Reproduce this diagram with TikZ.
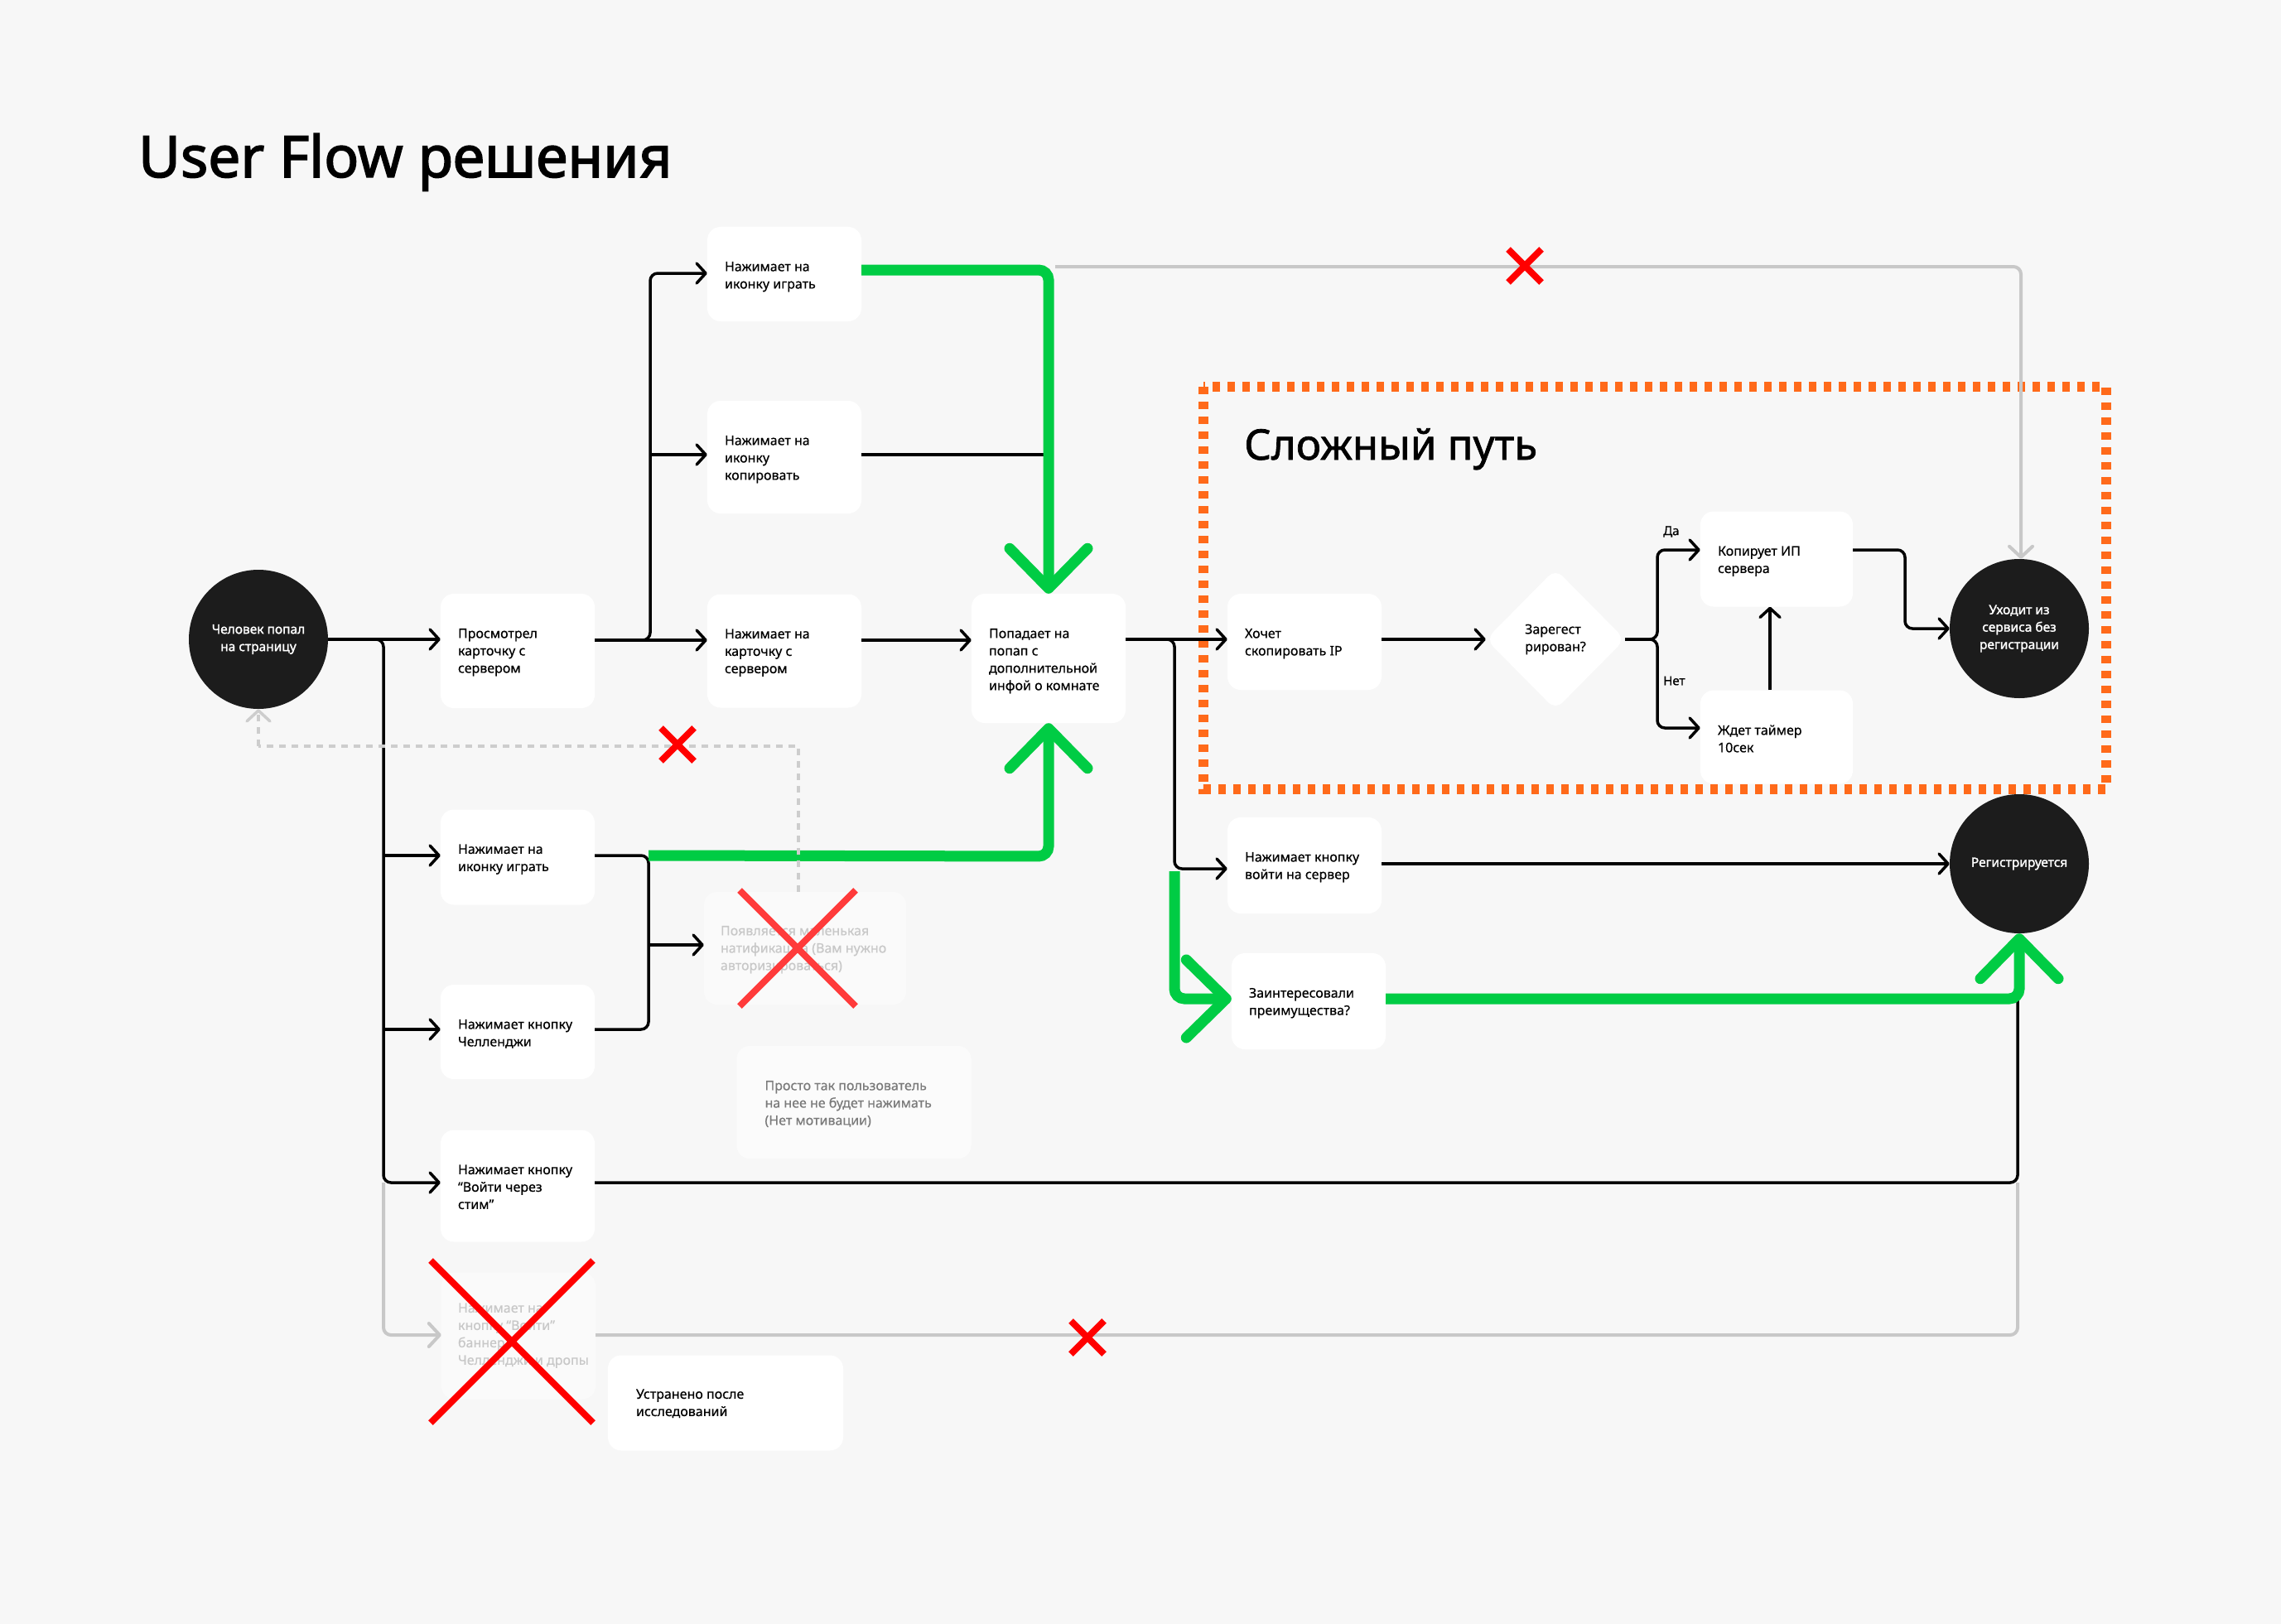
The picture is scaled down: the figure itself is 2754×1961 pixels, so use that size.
\documentclass[tikz,border=0pt]{standalone}
\usepackage{fontspec}
\setmainfont{Noto Sans}[FakeBold=0.5]
\newfontfamily\titlefont{Noto Sans}[FakeBold=2.2]
\newfontfamily\dotfont{Noto Sans}[FakeBold=1.6]
\newfontfamily\hardfont{Noto Sans}[FakeBold=1.4]
\usetikzlibrary{arrows.meta,shapes.geometric,calc}
\definecolor{bgc}{HTML}{F7F7F7}
\definecolor{dark}{HTML}{1C1C1C}
\definecolor{grn}{HTML}{00CC44}
\definecolor{org}{HTML}{FF6A1A}
\definecolor{lgrey}{HTML}{C8C8C8}
\definecolor{dgrey}{HTML}{CDCDCD}
\definecolor{xred}{HTML}{FF0000}
\definecolor{fred}{HTML}{FF3B3B}
\definecolor{notegrey}{HTML}{7A7A7A}
\tikzset{
  ubx/.style={draw=none, fill=white, rounded corners=16pt, inner sep=0pt},
  utxt/.style={inner sep=0pt, align=left, font=\fontsize{16}{21}\selectfont},
  dot/.style={circle, fill=dark, inner sep=0pt, minimum size=168pt, text=white, align=center, font=\dotfont\fontsize{15.5}{21}\selectfont},
  conn/.style={draw=black, line width=3.5pt, rounded corners=9pt},
  arr/.style={-{Straight Barb[length=11pt,width=24pt,line cap=round,line join=round]}},
  gconn/.style={draw=grn, line width=13pt, rounded corners=12pt},
  garr/.style={-{Straight Barb[length=48pt,width=94pt,line cap=round,line join=round]}},
  greyconn/.style={draw=lgrey, line width=4pt, rounded corners=9pt},
  grarr/.style={-{Straight Barb[length=13pt,width=28pt,line cap=round,line join=round]}},
  dashconn/.style={draw=dgrey, line width=3.5pt, dash pattern=on 8pt off 7pt},
  xmark/.style={line width=8pt},
  lbl/.style={inner sep=0pt, font=\fontsize{15}{18}\selectfont},
}
\newcommand{\mkbox}[6]{%
  \node[ubx, minimum width=#4pt, minimum height=#5pt] (#1) at (#2,#3) {};
  \node[utxt, anchor=north west] (#1-t) at ([xshift=21pt,yshift=-42pt]#1.north west) {#6};}
\newcommand{\redx}[4]{%
  \draw[xmark,#4,shift={(#1,#2)}] (-#3,-#3) -- (#3,#3) (-#3,#3) -- (#3,-#3);}
\begin{document}
\begin{tikzpicture}[x=1pt,y=-1pt]
\useasboundingbox (0,0) rectangle (2754,1961);
\fill[bgc] (0,0) rectangle (2754,1961);

% titles
\node[anchor=base west, inner sep=0pt, font=\titlefont\fontsize{69.5}{80}\selectfont] (title) at (167,214) {User Flow решения};

% orange region
\draw[org, line width=12pt, dash pattern=on 9pt off 9pt] (1453,467) rectangle (2543,953);
\node[anchor=base west, inner sep=0pt, font=\hardfont\fontsize{51}{56}\selectfont] (hard) at (1502,555) {Сложный путь};

% circles
\node[dot] (start) at (312,772) {Человек попал\\на страницу};
\node[dot] (leave) at (2438,759) {Уходит из\\сервиса без\\регистрации};
\node[dot] (reg) at (2438,1043) {Регистрируется};

% boxes
\mkbox{view}{625}{786}{186}{138}{Просмотрел\\карточку с\\сервером}
\mkbox{play1}{947}{331}{186}{114}{Нажимает на\\иконку играть}
\mkbox{copy}{947}{552}{186}{136}{Нажимает на\\иконку\\копировать}
\mkbox{card}{947}{786}{186}{137}{Нажимает на\\карточку с\\сервером}
\mkbox{popup}{1266}{795}{186}{156}{Попадает на\\попап с\\дополнительной\\инфой о комнате}
\mkbox{play2}{625}{1035}{186}{115}{Нажимает на\\иконку играть}
\mkbox{chal}{625}{1246}{186}{114}{Нажимает кнопку\\Челленджи}
\mkbox{steam}{625}{1432}{186}{135}{Нажимает кнопку\\“Войти через\\стим”}
\mkbox{want}{1575}{775}{186}{116}{Хочет\\скопировать IP}
\mkbox{serv}{1575}{1045}{186}{116}{Нажимает кнопку\\войти на сервер}
\mkbox{inter}{1580}{1209}{186}{116}{Заинтересовали\\преимущества?}
\mkbox{copyip}{2145}{675}{184}{115}{Копирует ИП\\сервера}
\mkbox{wait}{2145}{890}{184}{113}{Ждет таймер\\10сек}

\node[ubx, minimum width=284pt, minimum height=115pt] (fixed) at (876,1694) {};
\node[utxt, anchor=north west] (fixed-t) at ([xshift=34pt,yshift=-41pt]fixed.north west) {Устранено после\\исследований};

\node[ubx, fill opacity=0.6, minimum width=283pt, minimum height=136pt] (note) at (1031,1331) {};
\node[utxt, text=notegrey, anchor=north west] (note-t) at ([xshift=34pt,yshift=-42pt]note.north west) {Просто так пользователь\\на нее не будет нажимать\\(Нет мотивации)};

\node[ubx, fill opacity=0.45, minimum width=244pt, minimum height=136pt] (notif) at (972,1145) {};
\node[utxt, text=lgrey, anchor=north west] (notif-t) at ([xshift=20pt,yshift=-41pt]notif.north west) {Появляется маленькая\\натификашка (Вам нужно\\авторизироваться)};

\node[ubx, fill opacity=0.45, minimum width=186pt, minimum height=153pt] (banner) at (626,1613) {};
\node[utxt, text=lgrey, anchor=north west] (banner-t) at ([xshift=20pt,yshift=-37pt]banner.north west) {Нажимает на\\кнопку “Войти”\\баннер\\Челленджи и дропы};

% diamond
\node[diamond, fill=white, draw=none, minimum width=168pt, minimum height=170pt, inner sep=0pt, rounded corners=12pt, align=left, font=\fontsize{16}{21}\selectfont] (q) at (1878,772) {Зарегест\\рирован?};

% labels
\node[lbl, anchor=west] (da) at (2008,642) {Да};
\node[lbl, anchor=west] (net) at (2008,822) {Нет};

% helper coordinates
\coordinate (tr) at (463,772);
\coordinate (tr2) at (463,1033);
\coordinate (tr3) at (463,1243);
\coordinate (tr4) at (463,1428);
\coordinate (tr5) at (463,1612);
\coordinate (j1) at (785,773);
\coordinate (j1a) at (785,330);
\coordinate (j1b) at (785,549);
\coordinate (g1) at (1266,326);
\coordinate (gr1) at (1274,322);
\coordinate (gr2) at (2440,322);
\coordinate (j2) at (1418,772);
\coordinate (j2a) at (1418,1049);
\coordinate (g2a) at (1418,1052);
\coordinate (g2b) at (1418,1206);
\coordinate (j3) at (1669,1043);
\coordinate (g3) at (2438,1206);
\coordinate (s1) at (2436,1428);
\coordinate (s2) at (2436,1612);
\coordinate (k1) at (783,1033);
\coordinate (k2) at (783,1243);
\coordinate (k3) at (783,1141);
\coordinate (g4) at (1266,1034);
\coordinate (d1) at (964,901);
\coordinate (d2) at (312,901);
\coordinate (br) at (2001,772);
\coordinate (bra) at (2001,664);
\coordinate (brb) at (2001,879);
\coordinate (w1) at (2137,800);
\coordinate (c1) at (2300,664);
\coordinate (c2) at (2300,759);

% grey connectors
\draw[greyconn,grarr] (gr1) -- (gr2) -- (gr2 |- leave.north);
\draw[greyconn,grarr] (tr4) -- (tr5) -- (tr5 -| banner.west);
\draw[greyconn] (banner.east |- s2) -- (s2) -- (s1);

% black connectors
\draw[conn,arr] (start.east) -- (start.east -| view.west);
\draw[conn,arr] (start.east) -- (tr) -- (tr4) -- (tr4 -| steam.west);
\draw[conn,arr] (tr2) -- (tr2 -| play2.west);
\draw[conn,arr] (tr3) -- (tr3 -| chal.west);
\draw[conn,arr] (view.east |- j1) -- (j1 -| card.west);
\draw[conn,arr] (view.east |- j1) -- (j1) -- (j1a) -- (j1a -| play1.west);
\draw[conn,arr] (j1b) -- (j1b -| copy.west);
\draw[conn,arr] (card.east |- j1) -- (j1 -| popup.west);
\draw[conn] (copy.east |- j1b) -- (j1b -| g1);
\draw[conn,arr] (popup.east |- j2) -- (j2 -| want.west);
\draw[conn,arr] (popup.east |- j2) -- (j2) -- (j2a) -- (j2a -| serv.west);
\draw[conn,arr] (serv.east |- j3) -- (j3 -| reg.west);
\draw[conn] (steam.east |- s1) -- (s1) -- (s1 |- g3);
\draw[conn] (play2.east |- k1) -- (k1) -- (k2) -- (chal.east |- k2);
\draw[conn,arr] (k3) -- (k3 -| notif.west);
\draw[conn,arr] (want.east |- q.west) -- (q.west);
\draw[conn,arr] (q.east) -- (br) -- (bra) -- (bra -| copyip.west);
\draw[conn,arr] (q.east) -- (br) -- (brb) -- (brb -| wait.west);
\draw[conn,arr] (w1 |- wait.north) -- (w1 |- copyip.south);
\draw[conn,arr] (copyip.east |- c1) -- (c1) -- (c2) -- (leave.west);

% green connectors
\draw[gconn,garr] (play1.east |- g1) -- (g1) -- (popup.north);
\draw[gconn,garr] (k1) -- (g4) -- (popup.south);
\draw[gconn,garr] (g2a) -- (g2b) -- (g2b -| inter.west);
\draw[gconn,garr] (inter.east |- g3) -- (g3) -- (reg.south);

% dashed return
\draw[dashconn] (d1 |- notif.north) -- (d1) -- (d2);
\draw[dgrey, line width=3.5pt, dash pattern=on 8pt off 7pt, grarr] (d2) -- (start.south);

% red crosses
\redx{1841}{321}{20}{xred}
\redx{818}{899}{20}{xred}
\redx{1313}{1615}{20}{xred}
\redx{963}{1145}{70}{fred}
\redx{618}{1620}{98}{xred}
\end{tikzpicture}
\end{document}
